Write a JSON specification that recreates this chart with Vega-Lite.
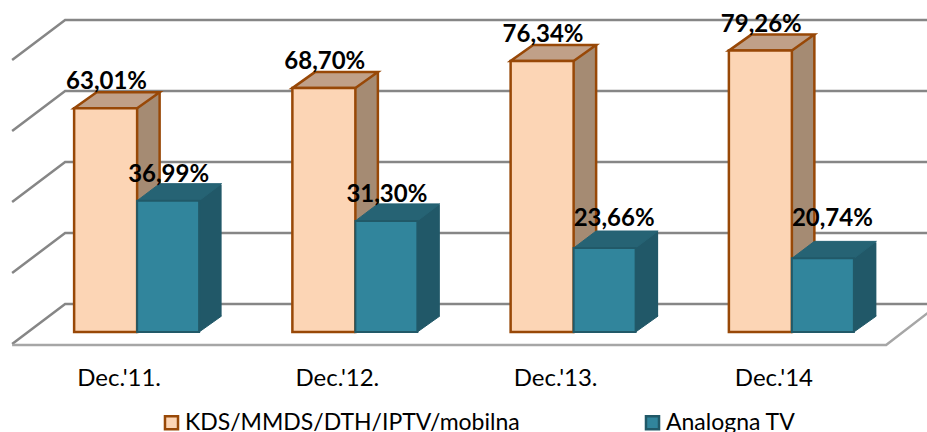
{
"$schema":"https://vega.github.io/schema/vega-lite/v6.json",
"width":927,"height":432,"padding":0,"autosize":{"type":"none"},"background":"white",
"config":{"view":{"stroke":null},"font":"Lato"},
"datasets":{
"bars":[
{"period":"Dec.'11.","series":"KDS/MMDS/DTH/IPTV/mobilna","value":63.01,"label":"63,01%"},
{"period":"Dec.'12.","series":"KDS/MMDS/DTH/IPTV/mobilna","value":68.70,"label":"68,70%"},
{"period":"Dec.'13.","series":"KDS/MMDS/DTH/IPTV/mobilna","value":76.34,"label":"76,34%"},
{"period":"Dec.'14","series":"KDS/MMDS/DTH/IPTV/mobilna","value":79.26,"label":"79,26%"},
{"period":"Dec.'11.","series":"Analogna TV","value":36.99,"label":"36,99%"},
{"period":"Dec.'12.","series":"Analogna TV","value":31.30,"label":"31,30%"},
{"period":"Dec.'13.","series":"Analogna TV","value":23.66,"label":"23,66%"},
{"period":"Dec.'14","series":"Analogna TV","value":20.74,"label":"20,74%"}],
"ticks":[{"tick":0},{"tick":20},{"tick":40},{"tick":60},{"tick":80}]
},
"data":{"name":"bars"},
"encoding":{
"x":{"field":"period","type":"nominal","sort":null,
"scale":{"domain":["Dec.'11.","Dec.'12.","Dec.'13.","Dec.'14"],"range":[28,901],"paddingInner":0,"paddingOuter":0},
"axis":{"title":null,"domain":false,"ticks":false,"labelAngle":0,"labelPadding":21,"labelOffset":-18,"offset":-87,"labelFont":"Lato","labelFontSize":24,"labelColor":"#000000"}},
"y":{"field":"value","type":"quantitative","scale":{"domain":[-28.17,93.52],"nice":false,"zero":false},"axis":null}
},
"layer":[
{"data":{"name":"ticks"},
"mark":{"type":"point","shape":"M-125,12 L-72,-28 L810,-28","size":4,"filled":false,"stroke":"#868686","strokeWidth":2.5,"opacity":1},
"encoding":{"x":{"datum":"Dec.'11."},"y":{"field":"tick","type":"quantitative"}}},
{"data":{"name":"ticks"},"transform":[{"filter":"datum.tick===0"}],
"mark":{"type":"point","shape":"M-125,13 L749,13 L810,-34","size":4,"filled":false,"stroke":"#a6a6a6","strokeWidth":2.5,"opacity":1},
"encoding":{"x":{"datum":"Dec.'11."},"y":{"field":"tick","type":"quantitative"}}},

{"transform":[{"filter":"datum.series==='KDS/MMDS/DTH/IPTV/mobilna'"}],
"layer":[
{"mark":{"type":"bar","width":22.5,"xOffset":11.25,"yOffset":-16,"y2Offset":-16,"fill":"#a58b73"},"encoding":{"y2":{"datum":0}}},
{"mark":{"type":"point","shape":"M0,-16 L0,0 L22.5,-16","size":4,"filled":true,"fill":"#a58b73","stroke":"#984807","strokeWidth":1.5,"opacity":1},"encoding":{"y":{"datum":0}}},
{"mark":{"type":"rule","xOffset":22.5,"yOffset":-16,"y2Offset":-16,"stroke":"#984807","strokeWidth":2.5},"encoding":{"y2":{"datum":0}}},
{"mark":{"type":"point","shape":"M-63,0 L0,0 L22.5,-16 L-40.5,-16 Z","size":4,"filled":true,"fill":"#c0a088","stroke":"#984807","strokeWidth":2.5,"opacity":1}},
{"mark":{"type":"bar","width":63,"xOffset":-31.5,"strokeWidth":2.5},
"encoding":{"y2":{"datum":0},
"fill":{"field":"series","type":"nominal","title":null,"scale":{"domain":["KDS/MMDS/DTH/IPTV/mobilna","Analogna TV"],"range":["#fcd5b5","#31859c"]},
"legend":{"orient":"none","legendX":160,"legendY":411,"direction":"horizontal","columns":2,"columnPadding":120,"symbolType":"square","symbolSize":170,"symbolStrokeWidth":2.5,"labelFont":"Lato","labelFontSize":23,"labelColor":"#000000","labelOffset":2,"labelLimit":500,"symbolOpacity":1}},
"stroke":{"field":"series","type":"nominal","title":null,"scale":{"domain":["KDS/MMDS/DTH/IPTV/mobilna","Analogna TV"],"range":["#984807","#215968"]}}}}
]},
{"transform":[{"filter":"datum.series==='Analogna TV'"}],
"layer":[
{"mark":{"type":"bar","width":22.5,"xOffset":73.25,"yOffset":-16,"y2Offset":-16,"fill":"#215868"},"encoding":{"y2":{"datum":0}}},
{"mark":{"type":"point","shape":"M62,-16 L62,0 L84.5,-16","size":4,"filled":true,"fill":"#215868","stroke":"#215868","strokeWidth":1,"opacity":1},"encoding":{"y":{"datum":0}}},
{"mark":{"type":"point","shape":"M0,0 L62,0 L84.5,-17 L22.5,-17 Z","size":4,"filled":true,"fill":"#266374","stroke":"#266374","strokeWidth":1,"opacity":1}},
{"mark":{"type":"bar","width":62,"xOffset":31,"strokeWidth":2},
"encoding":{"y2":{"datum":0},
"fill":{"field":"series","type":"nominal","title":null},
"stroke":{"field":"series","type":"nominal","title":null}}}
]},
{"mark":{"type":"text","font":"Lato","fontWeight":"bold","fontSize":24,"fill":"#000000","baseline":"alphabetic","dy":-19,"dx":-30.6},
"transform":[{"filter":"datum.series==='KDS/MMDS/DTH/IPTV/mobilna'"}],
"encoding":{"text":{"field":"label"}}},
{"mark":{"type":"text","font":"Lato","fontWeight":"bold","fontSize":24,"fill":"#000000","baseline":"alphabetic","dy":-19,"dx":31.5},
"transform":[{"filter":"datum.label==='36,99%'||datum.label==='31,30%'"}],
"encoding":{"text":{"field":"label"}}},
{"mark":{"type":"text","font":"Lato","fontWeight":"bold","fontSize":24,"fill":"#000000","baseline":"alphabetic","dy":-22,"dx":40.5},
"transform":[{"filter":"datum.label==='23,66%'"}],
"encoding":{"text":{"field":"label"}}},
{"mark":{"type":"text","font":"Lato","fontWeight":"bold","fontSize":24,"fill":"#000000","baseline":"alphabetic","dy":-32,"dx":40.5},
"transform":[{"filter":"datum.label==='20,74%'"}],
"encoding":{"text":{"field":"label"}}}
]
}
